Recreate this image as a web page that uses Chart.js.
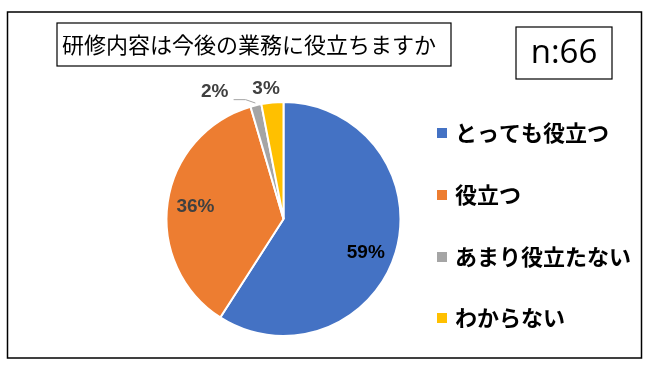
<!DOCTYPE html>
<html>
<head>
<meta charset="utf-8">
<script src="https://cdn.jsdelivr.net/npm/chart.js@4"></script>
<style>
  body { margin: 0; background: #fff; }
  #wrap { width: 651px; height: 366px; }
</style>
</head>
<body>
<div id="wrap"><canvas id="pieChart" width="651" height="366"></canvas></div>
<script>
const title = '研修内容は今後の業務に役立ちますか';
const sampleLabel = 'n:66';
const categories = ['とっても役立つ', '役立つ', 'あまり役立たない', 'わからない'];
const counts = [39, 24, 1, 2];
const colors = ['#4472C4', '#ED7D31', '#A5A5A5', '#FFC000'];

const total = counts.reduce((a, b) => a + b, 0);
const jpFont = '"Noto Sans CJK JP", "Noto Sans", sans-serif';

// frame, title box and n box
const framePlugin = {
    id: 'frame',
    afterDraw(chart) {
        const ctx = chart.ctx;
        ctx.save();
        ctx.strokeStyle = '#000';
        ctx.lineWidth = 1.5;
        ctx.strokeRect(7.5, 12, 634, 346);

        ctx.lineWidth = 1.2;
        ctx.strokeRect(57, 23, 394, 43);
        ctx.fillStyle = '#000';
        ctx.font = '22px ' + jpFont;
        ctx.textBaseline = 'middle';
        ctx.textAlign = 'left';
        ctx.fillText(title, 62, 45);

        ctx.strokeRect(516, 27, 96, 52);
        ctx.font = '33px "Open Sans", sans-serif';
        ctx.textAlign = 'center';
        ctx.fillText(sampleLabel, 564, 54);
        ctx.restore();
    }
};

// legend on the right
const legendPlugin = {
    id: 'sideLegend',
    afterDraw(chart) {
        const ctx = chart.ctx;
        const rows = [133, 195, 257, 318];
        ctx.save();
        ctx.font = 'bold 22px ' + jpFont;
        ctx.textBaseline = 'middle';
        ctx.textAlign = 'left';
        categories.forEach((c, i) => {
            ctx.fillStyle = colors[i];
            ctx.fillRect(437, rows[i] - 5, 10, 10);
            ctx.fillStyle = '#000';
            ctx.fillText(c, 455, rows[i]);
        });
        ctx.restore();
    }
};

// percentage labels
const labelPlugin = {
    id: 'pctLabels',
    afterDatasetsDraw(chart) {
        const ctx = chart.ctx;
        const arcs = chart.getDatasetMeta(0).data;
        const place = [
            { r: 0.76, dx: -3, dy: 9, color: '#000' },
            { r: 0.76, dx: 0, dy: 0, color: '#404040' },
            { r: 1.12, dx: -38, dy: 0, color: '#404040', leader: true },
            { r: 1.12, dx: -5, dy: 0, color: '#404040' }
        ];
        ctx.save();
        ctx.font = 'bold 19px "Liberation Sans", sans-serif';
        ctx.textAlign = 'center';
        ctx.textBaseline = 'middle';
        arcs.forEach((arc, i) => {
            const p = place[i];
            const mid = (arc.startAngle + arc.endAngle) / 2;
            const x = arc.x + Math.cos(mid) * arc.outerRadius * p.r + p.dx;
            const y = arc.y + Math.sin(mid) * arc.outerRadius * p.r + p.dy;
            const pct = Math.round(counts[i] / total * 100) + '%';
            if (p.leader) {
                ctx.strokeStyle = '#A5A5A5';
                ctx.lineWidth = 1;
                const ex = arc.x + Math.cos(mid) * arc.outerRadius * 1.02;
                const ey = arc.y + Math.sin(mid) * arc.outerRadius * 1.02;
                ctx.beginPath();
                ctx.moveTo(x + 19, y + 8);
                ctx.lineTo(x + 31, y + 8);
                ctx.lineTo(ex, ey);
                ctx.stroke();
            }
            ctx.fillStyle = p.color;
            ctx.fillText(pct, x, y);
        });
        ctx.restore();
    }
};

new Chart(document.getElementById('pieChart'), {
    type: 'pie',
    data: {
        labels: categories,
        datasets: [{
            data: counts,
            backgroundColor: colors,
            borderColor: '#fff',
            borderWidth: 2
        }]
    },
    options: {
        responsive: false,
        animation: false,
        layout: {
            padding: { top: 101, bottom: 29, left: 165, right: 249 }
        },
        plugins: {
            legend: { display: false },
            tooltip: { enabled: false }
        }
    },
    plugins: [framePlugin, legendPlugin, labelPlugin]
});
</script>
</body>
</html>
